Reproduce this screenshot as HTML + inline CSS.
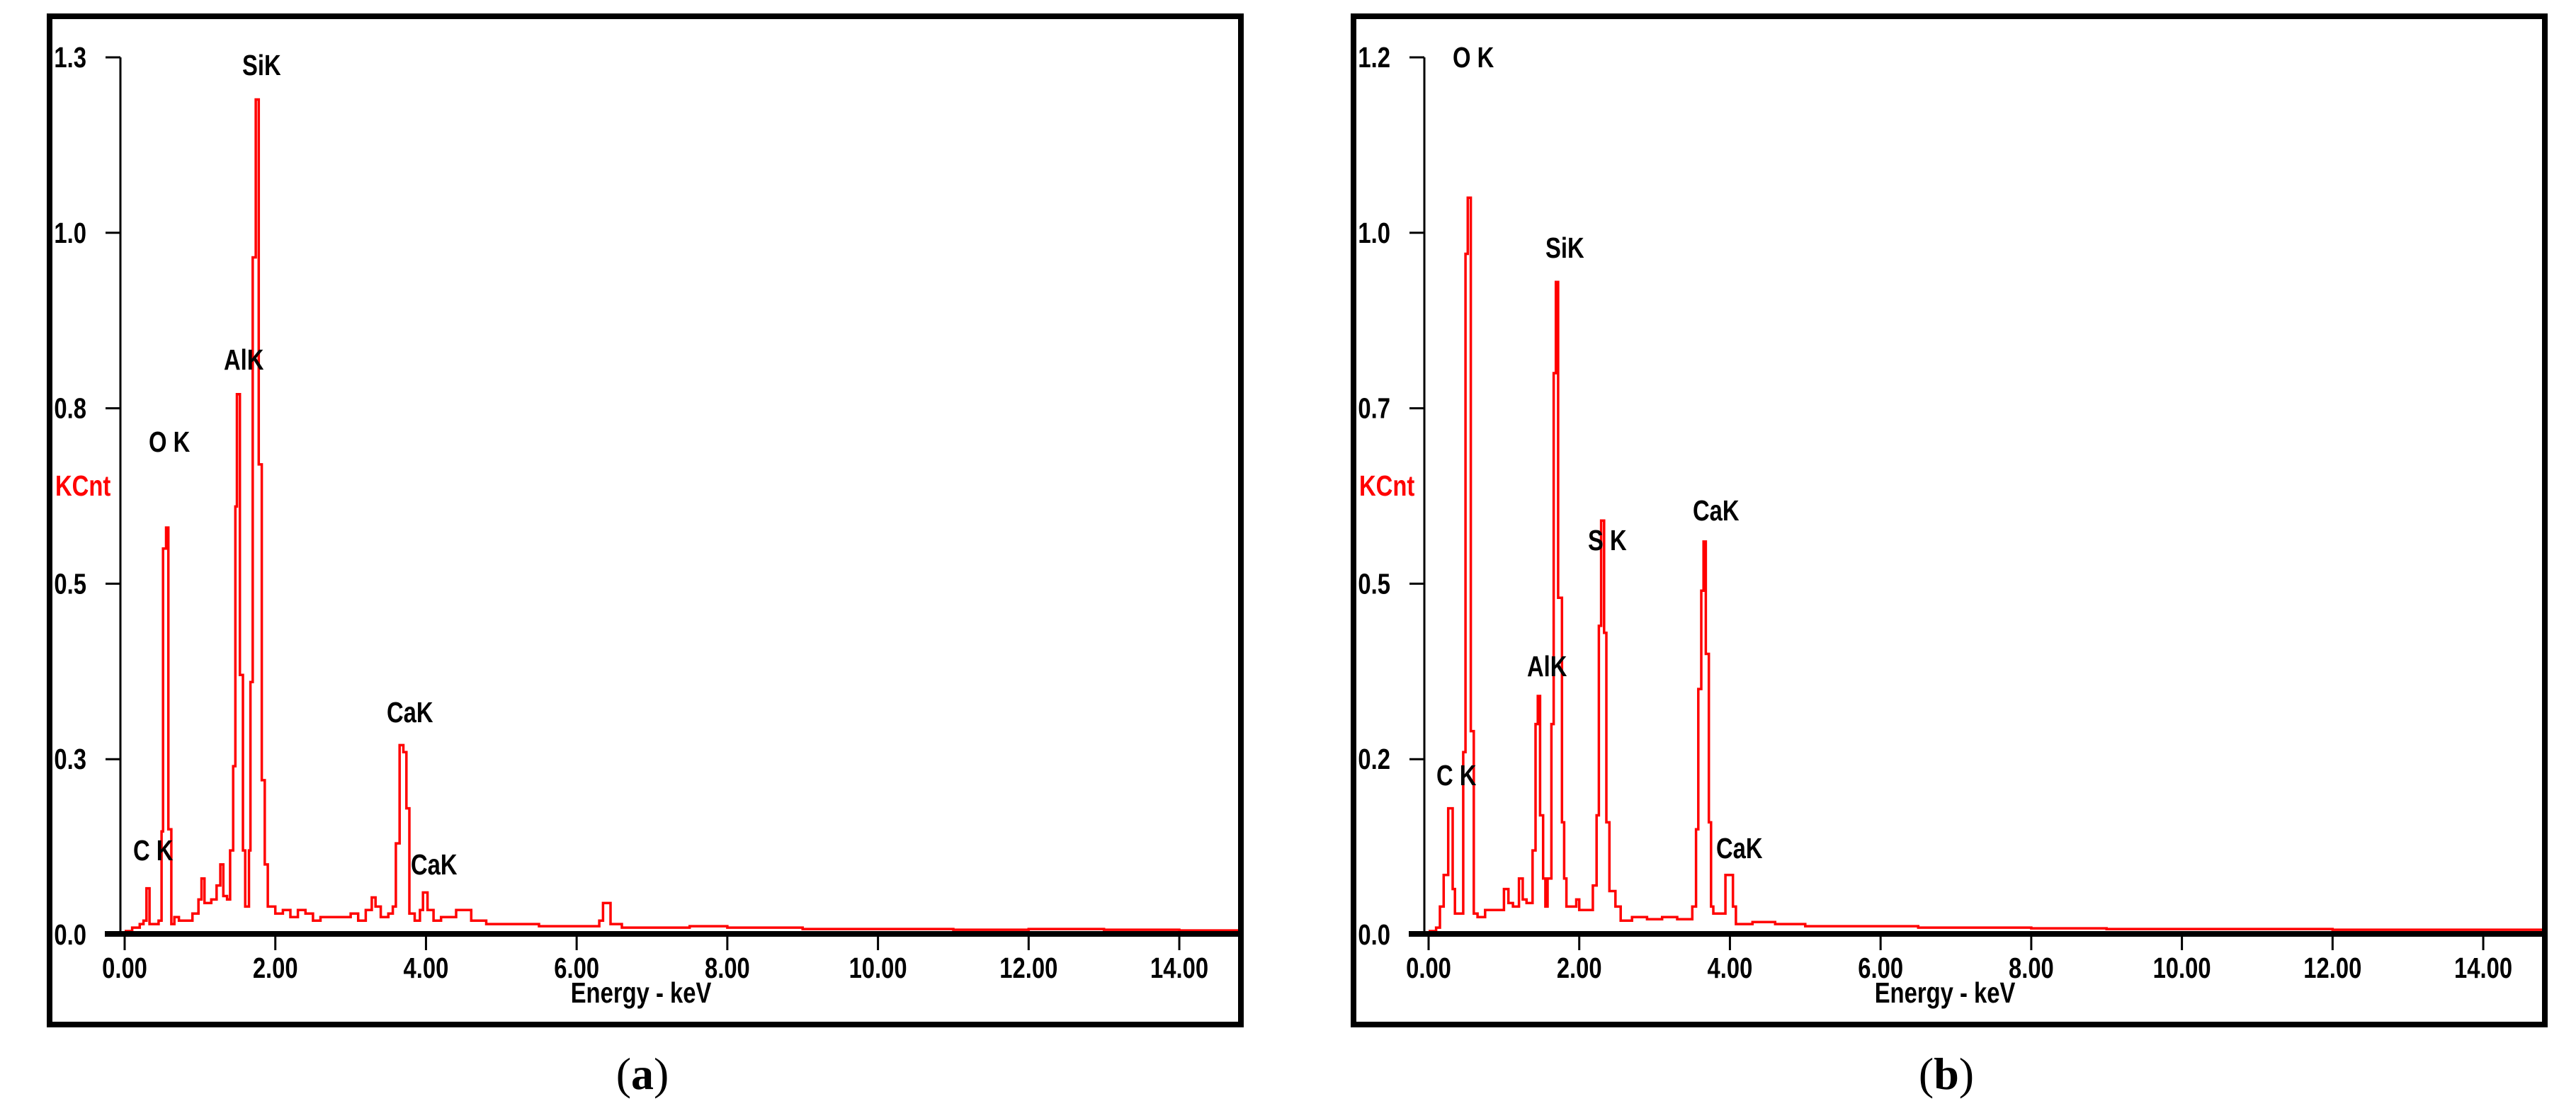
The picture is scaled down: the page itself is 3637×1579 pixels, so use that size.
<!DOCTYPE html>
<html><head><meta charset="utf-8"><style>
html,body{margin:0;padding:0;background:#fff;}
svg{display:block;}
.t{font-family:"Liberation Sans Narrow","Liberation Sans",sans-serif;font-weight:bold;font-size:41px;fill:#000;}
.cap{font-family:"Liberation Serif",serif;font-size:64px;fill:#000;}
</style></head><body>
<svg id="fig" width="3637" height="1579" viewBox="0 0 3637 1579" xmlns="http://www.w3.org/2000/svg"></svg>
<script>
const aE=[0,0.1,0.2,0.25,0.29,0.33,0.45,0.49,0.51,0.55,
0.58,0.62,0.66,0.72,0.8,0.9,0.98,1.02,1.06,1.15,
1.22,1.27,1.31,1.36,1.4,1.44,1.47,1.49,1.53,1.57,
1.6,1.65,1.67,1.7,1.74,1.78,1.82,1.86,1.9,2.0,
2.1,2.2,2.3,2.4,2.5,2.6,2.8,3.0,3.1,3.2,
3.28,3.33,3.4,3.5,3.56,3.6,3.65,3.7,3.74,3.78,
3.85,3.92,3.96,4.02,4.1,4.2,4.4,4.6,4.8,5.0,
5.5,6.0,6.3,6.35,6.45,6.6,7.0,7.5,8.0,9,
10,11,12,13,14,14.78];
const aV=[.005,.01,.015,.02,.066,.015,.02,.147,.55,.58,
.15,.015,.025,.02,.02,.03,.05,.08,.045,.05,
.07,.1,.055,.05,.12,.24,.61,.77,.37,.12,
.04,.12,.36,.965,1.19,.67,.22,.1,.04,.03,
.035,.025,.035,.03,.02,.025,.025,.03,.02,.035,
.053,.04,.025,.03,.04,.13,.27,.26,.18,.03,
.02,.035,.06,.035,.02,.025,.035,.02,.015,.015,
.012,.012,.02,.045,.015,.01,.01,.012,.01,.008,
.008,.007,.008,.007,.006,.006];
const bE=[0,0.1,0.15,0.2,0.26,0.32,0.35,0.4,0.46,0.49,
0.52,0.56,0.6,0.65,0.75,0.9,1.0,1.06,1.12,1.2,
1.25,1.3,1.38,1.42,1.45,1.48,1.52,1.55,1.58,1.63,
1.66,1.69,1.72,1.77,1.8,1.83,1.88,1.96,2.0,2.1,
2.18,2.23,2.26,2.29,2.33,2.36,2.4,2.48,2.55,2.7,
2.9,3.1,3.3,3.5,3.55,3.58,3.62,3.65,3.68,3.72,
3.75,3.78,3.88,3.94,4.04,4.08,4.3,4.6,5.0,5.5,
6.0,6.5,7.0,8.0,9.0,10.0,11,12,13,14,
14.78];
const bV=[.005,.01,.04,.085,.18,.065,.03,.03,.26,.97,
1.05,.29,.03,.025,.035,.035,.065,.045,.04,.08,
.05,.045,.12,.30,.34,.17,.08,.04,.08,.30,
.8,.93,.48,.16,.08,.04,.04,.05,.035,.035,
.07,.17,.44,.59,.43,.16,.062,.04,.02,.025,
.022,.025,.022,.04,.15,.35,.49,.56,.4,.16,
.04,.03,.03,.085,.04,.015,.018,.015,.012,.012,
.012,.01,.01,.009,.008,.008,.008,.007,.007,.007,
.007];
const xTicks=[0,2,4,6,8,10,12,14];
const xTickLabels=["0.00","2.00","4.00","6.00","8.00","10.00","12.00","14.00"];
const yTicks=[0,0.25,0.5,0.75,1.0,1.25];
const aYLabels=["0.0","0.3","0.5","0.8","1.0","1.3"];
const bYLabels=["0.0","0.2","0.5","0.7","1.0","1.2"];
const aPeakNames=["SiK","AlK","O K","C K","CaK","CaK"];
const bPeakNames=["O K","SiK","S K","AlK","CaK","C K","CaK"];

const NS="http://www.w3.org/2000/svg";
const svg=document.getElementById('fig');
const SX=0.8;
function mk(tag,attrs,parent){const e=document.createElementNS(NS,tag);for(const k in attrs)e.setAttribute(k,attrs[k]);parent.appendChild(e);return e;}
function txt(parent,x,y,anchor,str,extra){
  const e=mk('text',{x:0,y:0,'text-anchor':anchor,class:'t',transform:'translate('+x+' '+y+') scale('+SX+' 1)'},parent);
  if(extra)e.setAttribute('style',extra);
  e.textContent=str;
  return e;
}

function panel(ox,E,V,yLabels,peaks,peakPos,letter){
  const g=mk('g',{},svg);
  
  
  const xs=e=>ox+176+e*106.36;
  const ys=v=>1320-v/1.25*1239;
  const box=mk('rect',{x:ox+70,y:23,width:1682,height:1424,fill:'none',stroke:'#000','stroke-width':8},g);
  
  
  const ya=mk('line',{x1:ox+170,y1:ys(1.25),x2:ox+170,y2:1320,stroke:'#000','stroke-width':3},g);
  
  
  yTicks.forEach((t,i)=>{
    const tk=mk('line',{x1:ox+149,y1:ys(t),x2:ox+170,y2:ys(t),stroke:'#000','stroke-width':3},g);
    
    
    const tl=txt(g,ox+122,ys(t)+14,'end',yLabels[i]);
    
    
  });
  const kc=txt(g,ox+78,700,'start','KCnt','fill:#ff0000');
  
  
  let d='M'+xs(E[0])+' '+ys(V[0]);
  for(let i=1;i<E.length;i++){d+=' H'+xs(E[i]).toFixed(1)+' V'+ys(V[i]).toFixed(1);}
  const sp=mk('path',{d:d,fill:'none',stroke:'#ff0000','stroke-width':3.5},g);
  
  
  const xa=mk('line',{x1:ox+148,y1:1319,x2:ox+1748,y2:1319,stroke:'#000','stroke-width':8},g);
  
  
  xTicks.forEach((t,i)=>{
    const tk=mk('line',{x1:xs(t),y1:1320,x2:xs(t),y2:1342,stroke:'#000','stroke-width':3},g);
    
    
    const tl=txt(g,xs(t),1381,'middle',xTickLabels[i]);
    
    
  });
  const xt=txt(g,ox+905,1416,'middle','Energy - keV');
  
  
  peaks.forEach((p,i)=>{
    const pl=txt(g,ox+peakPos[i][0],peakPos[i][1],'start',p);
    
    
  });
  const cap=mk('text',{x:ox+907,y:1538,'text-anchor':'middle',class:'cap'},g);
  cap.innerHTML='(<tspan font-weight="bold">'+letter+'</tspan>)';
  
  
}
panel(0,aE,aV,aYLabels,aPeakNames,[[342,106],[316,522],[210,638],[188,1215],[546,1020],[580,1235]],'a');
panel(1841,bE,bV,bYLabels,bPeakNames,[[210,95],[341,364],[401,777],[315,955],[549,735],[187,1109],[582,1212]],'b');
</script>
</body></html>
